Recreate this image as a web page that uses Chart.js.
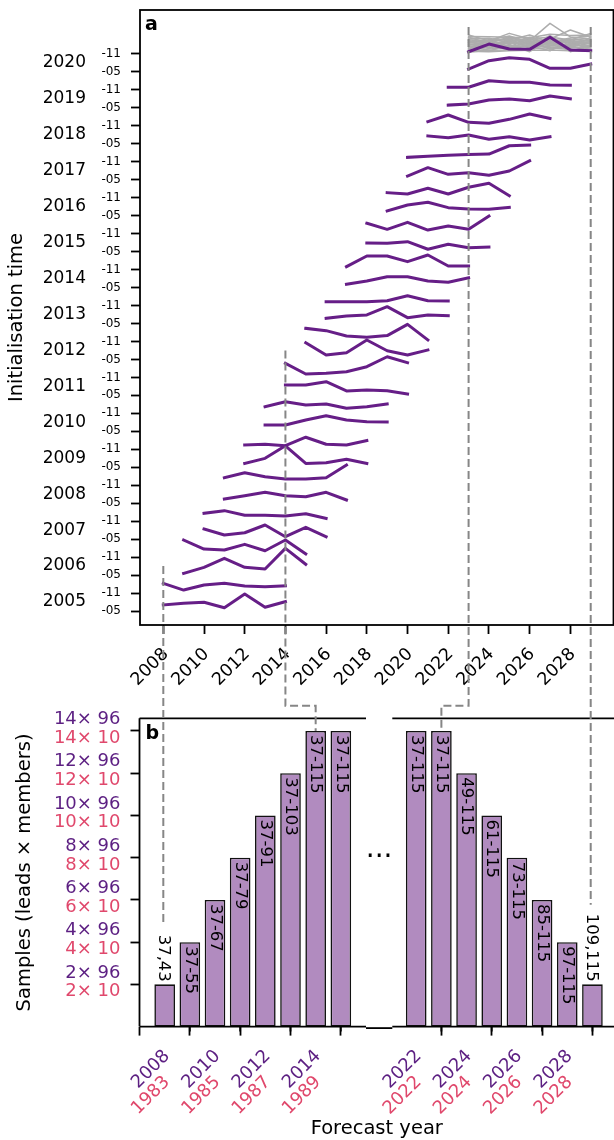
<!DOCTYPE html>
<html>
<head>
<meta charset="utf-8">
<script src="https://cdn.jsdelivr.net/npm/chart.js@4.4.1/dist/chart.umd.min.js"></script>
<style>
  html, body { margin: 0; padding: 0; background: #fff; }
  #wrap { position: relative; width: 614px; height: 1140px; overflow: hidden; background: #fff; }
  #wrap canvas { position: absolute; }
</style>
</head>
<body>
<div id="wrap">
  <canvas id="cTop" width="614" height="700" style="left:0;top:0;width:614px;height:700px"></canvas>
  <canvas id="cLeft" width="370" height="440" style="left:0;top:700px;width:370px;height:440px"></canvas>
  <canvas id="cRight" width="240" height="440" style="left:380px;top:700px;width:240px;height:440px"></canvas>
  <canvas id="cOver" width="614" height="1140" style="left:0;top:0;width:614px;height:1140px;pointer-events:none"></canvas>
</div>
<script>
// ---------------- data ----------------
// initialisation dates (year, month)
const initYears = [2005, 2006, 2007, 2008, 2009, 2010, 2011, 2012, 2013, 2014, 2015, 2016, 2017, 2018, 2019, 2020];
const initMonths = [5, 11];
// forecast lead (years after initialisation year) of each plotted point
const leadYears = [3, 4, 5, 6, 7, 8, 9];

// hindcast anomaly per initialisation (rows) and lead (columns)
const hindcastAnom = [
  [0.67, 0.86, 0.97, 0.37, 1.89, 0.41, 1.04], // 2005-05
  [1.08, 0.33, 0.89, 1.08, 0.78, 0.70, 0.81], // 2005-11
  [0.19, 0.86, 1.86, 0.86, 0.67, 2.97, 1.19], // 2006-05
  [1.90, 0.90, 0.79, 1.42, 0.71, 1.90, 0.35], // 2006-11
  [1.12, 0.46, 0.71, 1.57, 0.27, 1.31, 0.27], // 2007-05
  [0.87, 1.17, 0.65, 0.65, 0.57, 0.83, 0.31], // 2007-11
  [0.47, 0.83, 1.21, 0.83, 0.72, 1.21, 0.36], // 2008-05
  [0.83, 1.39, 0.95, 0.69, 0.69, 0.83, 2.25], // 2008-11
  [0.43, 0.99, 2.39, 0.43, 0.50, 0.88, 0.43], // 2009-05
  [0.48, 0.56, 0.40, 1.34, 0.56, 0.48, 0.96], // 2009-11
  [0.70, 0.70, 1.26, 1.74, 1.26, 1.07, 1.04], // 2010-05
  [0.73, 1.29, 0.92, 1.04, 0.56, 0.73, 1.04], // 2010-11
  [1.16, 1.16, 1.52, 0.49, 0.60, 0.52, 0.16], // 2011-05
  [1.57, 0.38, 0.46, 0.63, 1.19, 2.30, 1.64], // 2011-11
  [1.86, 0.49, 0.75, 2.16, 0.97, 0.49, 1.05], // 2012-05
  [1.46, 1.20, 0.61, 0.46, 0.65, 1.90, 0.17], // 2012-11
  [0.58, 0.83, 0.95, 1.87, 0.65, 0.95, 0.87], // 2013-05
  [0.42, 0.42, 0.42, 0.53, 1.09, 0.53, 0.50], // 2013-11
  [0.36, 0.72, 1.20, 1.20, 0.72, 0.58, 1.09], // 2014-05
  [0.32, 1.51, 1.51, 0.88, 1.62, 0.40, 0.40], // 2014-11
  [0.96, 0.92, 1.10, 0.26, 0.81, 0.43, 0.51], // 2015-05
  [1.15, 0.48, 1.26, 0.40, 0.85, 0.48, 1.96], // 2015-11
  [0.52, 1.19, 1.49, 0.89, 0.75, 0.71, 0.93], // 2016-05
  [0.56, 0.41, 1.05, 0.41, 1.16, 1.60, 0.22], // 2016-11
  [0.41, 1.34, 0.60, 0.78, 0.49, 0.97, 2.11], // 2017-05
  [0.49, 0.60, 0.71, 0.82, 0.86, 1.78, 1.86], // 2017-11
  [0.87, 0.68, 0.98, 0.50, 0.79, 0.42, 0.79], // 2018-05
  [0.46, 1.20, 0.39, 0.28, 0.72, 1.31, 0.83], // 2018-11
  [0.31, 0.42, 0.87, 0.98, 0.79, 1.31, 1.01], // 2019-05
  [0.29, 0.29, 1.02, 0.85, 0.85, 0.55, 0.51], // 2019-11
  [0.32, 1.25, 1.58, 1.40, 0.40, 0.40, 0.88], // 2020-05
  [0.24, 1.10, 0.55, 0.51, 1.85, 0.43, 0.36]  // 2020-11
];

// individual members of the latest (2020-11) forecast
const latestMembersAnom = [
  [1.56, 1.34, 1.78, 1.45, 3.40, 1.89, 1.67],
  [1.34, 1.56, 2.00, 1.34, 1.67, 2.66, 1.89],
  [2.10, 1.45, 2.29, 1.67, 1.89, 1.56, 2.29],
  [1.78, 1.66, 1.56, 2.10, 1.34, 1.78, 2.00],
  [1.20, 1.50, 1.40, 1.60, 1.45, 1.30, 1.55],
  [1.00, 1.30, 1.10, 1.40, 1.60, 1.20, 1.35],
  [0.80, 1.10, 1.35, 1.05, 1.25, 1.45, 1.10],
  [0.60, 0.95, 1.20, 1.30, 1.00, 1.05, 1.25],
  [0.40, 0.75, 0.90, 0.85, 1.15, 0.90, 0.95],
  [0.25, 0.55, 0.70, 1.00, 0.80, 0.70, 0.80],
  [0.20, 0.40, 0.45, 0.60, 0.70, 0.50, 0.55],
  [0.30, 0.25, 0.35, 0.40, 0.45, 0.35, 0.30],
  [1.45, 1.20, 0.85, 1.15, 1.35, 1.60, 1.45],
  [1.10, 0.85, 1.55, 0.75, 0.95, 0.80, 1.20],
  [0.70, 1.45, 0.60, 1.50, 0.55, 1.15, 0.65],
  [0.50, 0.30, 1.05, 0.25, 1.50, 0.25, 1.00],
  [1.30, 1.00, 0.55, 0.90, 0.35, 1.40, 0.40],
  [0.90, 0.65, 1.60, 1.20, 0.60, 0.95, 1.40],
  [1.65, 1.75, 1.25, 1.85, 1.10, 1.55, 1.70],
  [1.85, 1.20, 1.90, 1.00, 1.75, 1.15, 1.60],
  [0.55, 1.60, 0.80, 1.70, 0.90, 1.65, 0.75],
  [1.50, 0.60, 1.70, 0.65, 2.05, 0.60, 1.85],
  [0.35, 0.85, 0.50, 0.70, 1.20, 0.85, 0.45],
  [1.95, 1.90, 1.85, 1.80, 2.20, 2.05, 2.10]
];

// forecast-year tick labels of panel a
const forecastTickYears = [2008, 2010, 2012, 2014, 2016, 2018, 2020, 2022, 2024, 2026, 2028];

// panel b: number of lead samples per forecast year (early and late block)
const sampleYearsEarly = [2008, 2009, 2010, 2011, 2012, 2013, 2014, 2015];
const sampleCountsEarly = [2, 4, 6, 8, 10, 12, 14, 14];
const leadRangeEarly = ['37,43', '37-55', '37-67', '37-79', '37-91', '37-103', '37-115', '37-115'];
const sampleYearsLate = [2022, 2023, 2024, 2025, 2026, 2027, 2028, 2029];
const sampleCountsLate = [14, 14, 12, 10, 8, 6, 4, 2];
const leadRangeLate = ['37-115', '37-115', '49-115', '61-115', '73-115', '85-115', '97-115', '109,115'];
const sampleTicks = [2, 4, 6, 8, 10, 12, 14];
const modelMembers = 96;
const obsMembers = 10;
const modelTickYearsEarly = [2008, 2010, 2012, 2014];
const obsTickYearsEarly = [1983, 1985, 1987, 1989];
const modelTickYearsLate = [2022, 2024, 2026, 2028];
const obsTickYearsLate = [2022, 2024, 2026, 2028];

// forecast years linked between panel a and panel b
const linkYears = [2008, 2014, 2023, 2029];

// ---------------- style ----------------
const PURPLE = '#661e87';
const PURPLE_TXT = '#5c1f82';
const RED_TXT = '#e0486c';
const GREY = '#adadad';
const BAR_FILL = '#b18bbf';
const DASH = '#868686';
const ANOM_SCALE = 0.25;         // years of vertical offset per anomaly unit
const FONT = "'DejaVu Sans', 'Liberation Sans', sans-serif";
Chart.defaults.font.family = FONT;
Chart.defaults.color = '#000';

const inits = [];
initYears.forEach(yr => initMonths.forEach(m => inits.push({ yr, m, t: yr + (m - 1) / 12 })));

// keep the plot area exactly where the axis boxes put it
function fixBox(prop, size) {
  return s => {
    s[prop] = size;
    s.paddingTop = 0; s.paddingBottom = 0; s.paddingLeft = 0; s.paddingRight = 0;
  };
}

// ---------------- panel a ----------------
const datasetsTop = [];
const latest = inits[inits.length - 1];
latestMembersAnom.forEach(row => {
  datasetsTop.push({
    data: row.map((a, k) => ({ x: latest.yr + leadYears[k], y: latest.t + a * ANOM_SCALE })),
    borderColor: GREY, borderWidth: 1.5, order: 2
  });
});
hindcastAnom.forEach((row, i) => {
  datasetsTop.push({
    data: row.map((a, k) => ({ x: inits[i].yr + leadYears[k], y: inits[i].t + a * ANOM_SCALE })),
    borderColor: PURPLE, borderWidth: 3, order: 1
  });
});

const tickGrid = { drawOnChartArea: false, tickLength: 9, tickColor: '#000', tickWidth: 1.8 };

const topDecor = {
  id: 'topDecor',
  afterDraw(chart) {
    const { ctx, chartArea: a, scales: { y } } = chart;
    ctx.save();
    ctx.strokeStyle = '#000';
    ctx.lineWidth = 1.8;
    ctx.strokeRect(a.left, a.top, a.right - a.left, a.bottom - a.top);
    ctx.fillStyle = '#000';
    ctx.font = '17px ' + FONT;
    ctx.textAlign = 'right';
    ctx.textBaseline = 'middle';
    initYears.forEach(yr => ctx.fillText(String(yr), y.right - 54, y.getPixelForValue(yr + 7 / 12)));
    ctx.font = 'bold 19px ' + FONT;
    ctx.textAlign = 'left';
    ctx.textBaseline = 'alphabetic';
    ctx.fillText('a', a.left + 5, a.top + 20);
    ctx.restore();
  }
};

const topChart = new Chart(document.getElementById('cTop'), {
  type: 'line',
  data: { datasets: datasetsTop },
  options: {
    responsive: false, animation: false, events: [],
    layout: { padding: { top: 10, right: 0.5, left: 0, bottom: 0 } },
    plugins: { legend: { display: false }, tooltip: { enabled: false } },
    elements: { point: { radius: 0 }, line: { tension: 0, borderCapStyle: 'square', borderJoinStyle: 'round' } },
    scales: {
      x: {
        type: 'linear', min: 2006.855, max: 2030.12,
        afterBuildTicks: s => { s.ticks = forecastTickYears.map(v => ({ value: v })); },
        afterFit: fixBox('height', 75),
        grid: tickGrid, border: { display: false },
        ticks: { autoSkip: false, minRotation: 45, maxRotation: 45, padding: 10, labelOffset: 2.5,
                 font: { size: 17.5 }, color: '#000', callback: v => String(v) }
      },
      y: {
        type: 'linear', min: 2004.9438, max: 2022.0557,
        afterBuildTicks: s => { s.ticks = inits.map(o => ({ value: o.t })); },
        afterFit: fixBox('width', 140),
        grid: tickGrid, border: { display: false },
        ticks: { autoSkip: false, padding: 10, font: { size: 12 }, color: '#000',
                 callback: (v, i) => inits[i].m === 5 ? '-05' : '-11' },
        title: { display: true, text: 'Initialisation time', font: { size: 19.5 }, color: '#000',
                 padding: { top: 5.5, bottom: 0 } }
      }
    }
  },
  plugins: [topDecor]
});

// ---------------- panel b ----------------
function bottomDecor(opts) {
  return {
    id: 'bottomDecor',
    afterDraw(chart) {
      const { ctx, chartArea: a, scales: { x, y } } = chart;
      ctx.save();
      ctx.strokeStyle = '#000';
      ctx.lineWidth = 1.8;
      ctx.beginPath();
      ctx.moveTo(a.left, a.top); ctx.lineTo(a.right, a.top);
      ctx.moveTo(a.left, a.bottom); ctx.lineTo(a.right, a.bottom);
      if (opts.leftSpine) { ctx.moveTo(a.left, a.top); ctx.lineTo(a.left, a.bottom); }
      ctx.stroke();
      // minor ticks on the odd years
      ctx.beginPath();
      opts.years.forEach(yr => {
        if (opts.tickYears.indexOf(yr) < 0) {
          const px = x.getPixelForValue(yr);
          ctx.moveTo(px, a.bottom); ctx.lineTo(px, a.bottom + 5);
        }
      });
      ctx.stroke();
      // observation-year labels under the model-year labels
      x.getLabelItems().forEach((it, i) => {
        const o = it.options;
        ctx.save();
        ctx.translate(o.translation[0], o.translation[1] + 26);
        ctx.rotate(o.rotation);
        ctx.font = it.font.string;
        ctx.fillStyle = RED_TXT;
        ctx.textAlign = o.textAlign;
        ctx.textBaseline = o.textBaseline;
        ctx.fillText(String(opts.obsYears[i]), 0, it.textOffset);
        ctx.restore();
      });
      // observation sample counts on the y axis
      if (opts.leftSpine) {
        ctx.font = '18px ' + FONT;
        ctx.fillStyle = RED_TXT;
        ctx.textAlign = 'right';
        ctx.textBaseline = 'middle';
        sampleTicks.forEach(v => ctx.fillText(v + '\u00d7 ' + obsMembers, y.right - 19, y.getPixelForValue(v) + 7.3));
        ctx.fillStyle = '#000';
        ctx.font = 'bold 19px ' + FONT;
        ctx.textAlign = 'left';
        ctx.textBaseline = 'alphabetic';
        ctx.fillText('b', a.left + 6, a.top + 21);
      }
      // lead-range labels on the bars
      const meta = chart.getDatasetMeta(0);
      ctx.font = '16.5px ' + FONT;
      ctx.fillStyle = '#000';
      ctx.textBaseline = 'middle';
      meta.data.forEach((bar, i) => {
        const txt = opts.labels[i];
        const w = ctx.measureText(txt).width;
        const h = bar.base - bar.y;
        ctx.save();
        if (w + 8 < h) {
          ctx.translate(bar.x, bar.y + 4);
          ctx.rotate(Math.PI / 2);
          ctx.textAlign = 'left';
        } else {
          ctx.translate(bar.x - 1.5, bar.y - 2.5);
          ctx.rotate(Math.PI / 2);
          ctx.textAlign = 'right';
        }
        ctx.fillText(txt, 0, 0);
        ctx.restore();
      });
      ctx.restore();
    }
  };
}

function barOptions(xmin, xmax, tickYears, padding, showY) {
  return {
    responsive: false, animation: false, events: [],
    layout: { padding },
    plugins: { legend: { display: false }, tooltip: { enabled: false } },
    scales: {
      x: {
        type: 'linear', offset: false, min: xmin, max: xmax,
        afterBuildTicks: s => { s.ticks = tickYears.map(v => ({ value: v })); },
        afterFit: fixBox('height', 113.4),
        grid: tickGrid, border: { display: false },
        ticks: { autoSkip: false, minRotation: 45, maxRotation: 45, padding: 10, labelOffset: 2.5,
                 font: { size: 18 }, color: PURPLE_TXT, callback: v => String(v) }
      },
      y: {
        display: showY, min: 0, max: 14.6,
        afterBuildTicks: s => { s.ticks = sampleTicks.map(v => ({ value: v })); },
        afterFit: fixBox('width', showY ? 139.5 : 0),
        grid: tickGrid, border: { display: false },
        ticks: { autoSkip: false, padding: 10, labelOffset: -11.5, font: { size: 18 }, color: PURPLE_TXT,
                 callback: v => v + '\u00d7 ' + modelMembers },
        title: { display: true, text: 'Samples (leads \u00d7 members)', font: { size: 19.5 }, color: '#000',
                 padding: { top: 13.5, bottom: 0 } }
      }
    }
  };
}

function barData(years, counts) {
  return {
    datasets: [{
      data: years.map((x, i) => ({ x, y: counts[i] })),
      backgroundColor: BAR_FILL, borderColor: '#111', borderWidth: 1.6, borderSkipped: false,
      barPercentage: 0.82, categoryPercentage: 1
    }]
  };
}

const leftChart = new Chart(document.getElementById('cLeft'), {
  type: 'bar',
  data: barData(sampleYearsEarly, sampleCountsEarly),
  options: barOptions(2007, 2016, modelTickYearsEarly, { top: 18.3, right: 4, left: 0, bottom: 0 }, true),
  plugins: [bottomDecor({ leftSpine: true, years: sampleYearsEarly, tickYears: modelTickYearsEarly,
                          obsYears: obsTickYearsEarly, labels: leadRangeEarly })]
});

const rightChart = new Chart(document.getElementById('cRight'), {
  type: 'bar',
  data: barData(sampleYearsLate, sampleCountsLate),
  options: barOptions(2021.05, 2030, modelTickYearsLate, { top: 18.3, right: 2.4, left: 12.3, bottom: 0 }, false),
  plugins: [bottomDecor({ leftSpine: false, years: sampleYearsLate, tickYears: modelTickYearsLate,
                          obsYears: obsTickYearsLate, labels: leadRangeLate })]
});

// ---------------- links between the panels ----------------
function drawOverlay() {
  const cv = document.getElementById('cOver');
  const ctx = cv.getContext('2d');
  ctx.clearRect(0, 0, cv.width, cv.height);
  const tx = topChart.scales.x, ty = topChart.scales.y;
  const panels = [
    { chart: leftChart, dx: 0, dy: 700, years: sampleYearsEarly, labels: leadRangeEarly },
    { chart: rightChart, dx: 380, dy: 700, years: sampleYearsLate, labels: leadRangeLate }
  ];
  ctx.save();
  ctx.strokeStyle = DASH;
  ctx.lineWidth = 2;
  ctx.setLineDash([8, 4]);
  ctx.font = '16.5px ' + FONT;
  linkYears.forEach(yr => {
    // latest initialisation whose forecast reaches this year
    let last = null;
    inits.forEach(o => { if (o.yr + leadYears[0] <= yr && yr <= o.yr + leadYears[leadYears.length - 1]) last = o; });
    const x0 = tx.getPixelForValue(yr);
    const y0 = ty.getPixelForValue(last.t + 0.75);
    const p = panels.find(q => q.years.indexOf(yr) >= 0);
    const i = p.years.indexOf(yr);
    const bar = p.chart.getDatasetMeta(0).data[i];
    const bx = bar.x + p.dx, by = bar.y + p.dy;
    const topB = p.chart.chartArea.top + p.dy;
    ctx.beginPath();
    ctx.moveTo(x0, y0);
    if (Math.abs(bx - x0) < 4) {
      const w = ctx.measureText(p.labels[i]).width;
      ctx.lineTo(x0, by - 2.5 - w - 9);
    } else {
      const yk = topB - 12.5;
      ctx.lineTo(x0, yk);
      ctx.lineTo(bx, yk);
      ctx.lineTo(bx, by);
    }
    ctx.stroke();
  });
  ctx.setLineDash([]);
  // broken-axis filler on the baseline
  const lA = leftChart.chartArea, rA = rightChart.chartArea;
  ctx.strokeStyle = '#000';
  ctx.lineWidth = 1.8;
  ctx.beginPath();
  ctx.moveTo(lA.right, lA.bottom + 700 + 1.5);
  ctx.lineTo(rA.left + 380, rA.bottom + 700 + 1.5);
  ctx.stroke();
  ctx.fillStyle = '#000';
  ctx.textAlign = 'center';
  ctx.font = '28px ' + FONT;
  ctx.textBaseline = 'alphabetic';
  ctx.fillText('...', (lA.right + rA.left + 380) / 2, 857);
  ctx.font = '19.5px ' + FONT;
  ctx.textBaseline = 'middle';
  ctx.fillText('Forecast year', (lA.left + 614) / 2, 1129);
  ctx.restore();
}
drawOverlay();
</script>
</body>
</html>
